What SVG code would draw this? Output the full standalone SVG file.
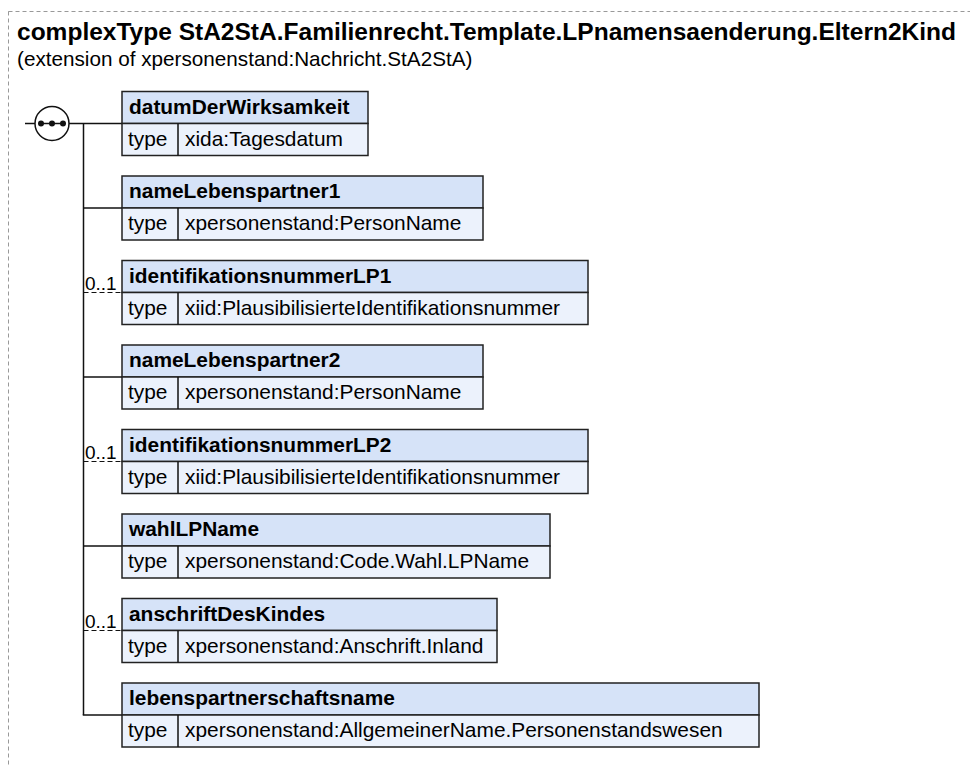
<svg xmlns="http://www.w3.org/2000/svg" width="970" height="767" viewBox="0 0 970 767">
<style>
text{font-family:"Liberation Sans",Arial,sans-serif;fill:#000}
.title{font-size:24.4px;font-weight:bold}
.sub{font-size:20.7px}
.hd{fill:#d6e3f8;stroke:#222;stroke-width:1.5}
.tr{fill:#ecf2fc;stroke:#222;stroke-width:1.5}
.hn{font-size:20.9px;font-weight:bold}
.tt{font-size:20.9px}
.ln{stroke:#111;stroke-width:1.5;fill:none}
.dl{stroke:#111;stroke-width:1.2;fill:none;stroke-dasharray:5,3}
.card{font-size:19px}
</style>
<rect x="8.5" y="11.5" width="980" height="800" fill="none" stroke="#999" stroke-width="1" stroke-dasharray="4,3"/>
<text class="title" x="17" y="40" textLength="939" lengthAdjust="spacingAndGlyphs">complexType StA2StA.Familienrecht.Template.LPnamensaenderung.Eltern2Kind</text>
<text class="sub" x="17" y="66">(extension of xpersonenstand:Nachricht.StA2StA)</text>
<g id="connectors">
<line class="ln" x1="25" y1="123.5" x2="35" y2="123.5"/>
<line class="ln" x1="69" y1="123.5" x2="122" y2="123.5"/>
<line class="ln" x1="83.5" y1="123.5" x2="83.5" y2="715"/>
<line class="ln" x1="83.5" y1="208" x2="122" y2="208"/>
<line class="dl" x1="83.5" y1="292.5" x2="122" y2="292.5"/>
<line class="ln" x1="83.5" y1="377" x2="122" y2="377"/>
<line class="dl" x1="83.5" y1="461.5" x2="122" y2="461.5"/>
<line class="ln" x1="83.5" y1="546" x2="122" y2="546"/>
<line class="dl" x1="83.5" y1="630.5" x2="122" y2="630.5"/>
<line class="ln" x1="82.75" y1="715" x2="122" y2="715"/>
<text class="card" x="85" y="289.5">0..1</text>
<text class="card" x="85" y="458.5">0..1</text>
<text class="card" x="85" y="627.5">0..1</text>
</g>
<g id="sequence">
<circle cx="52" cy="123.5" r="17" fill="#fff" stroke="#111" stroke-width="1.5"/>
<line x1="41" y1="123.5" x2="63" y2="123.5" stroke="#111" stroke-width="1.5"/>
<circle cx="41" cy="123.5" r="3" fill="#111"/>
<circle cx="52" cy="123.5" r="3" fill="#111"/>
<circle cx="63" cy="123.5" r="3" fill="#111"/>
</g>
<g id="datumDerWirksamkeit">
<rect class="hd" x="122" y="91.5" width="246" height="32"/>
<rect class="tr" x="122" y="123.5" width="246" height="32"/>
<line class="ln" x1="178" y1="123.5" x2="178" y2="155.5"/>
<text class="hn" x="129" y="113.5">datumDerWirksamkeit</text>
<text class="tt" x="128" y="145.5">type</text>
<text class="tt" x="185" y="145.5">xida:Tagesdatum</text>
</g>
<g id="nameLebenspartner1">
<rect class="hd" x="122" y="176" width="361" height="32"/>
<rect class="tr" x="122" y="208" width="361" height="32"/>
<line class="ln" x1="178" y1="208" x2="178" y2="240"/>
<text class="hn" x="129" y="198">nameLebenspartner1</text>
<text class="tt" x="128" y="230">type</text>
<text class="tt" x="185" y="230">xpersonenstand:PersonName</text>
</g>
<g id="identifikationsnummerLP1">
<rect class="hd" x="122" y="260.5" width="466" height="32"/>
<rect class="tr" x="122" y="292.5" width="466" height="32"/>
<line class="ln" x1="178" y1="292.5" x2="178" y2="324.5"/>
<text class="hn" x="129" y="282.5">identifikationsnummerLP1</text>
<text class="tt" x="128" y="314.5">type</text>
<text class="tt" x="185" y="314.5">xiid:PlausibilisierteIdentifikationsnummer</text>
</g>
<g id="nameLebenspartner2">
<rect class="hd" x="122" y="345" width="361" height="32"/>
<rect class="tr" x="122" y="377" width="361" height="32"/>
<line class="ln" x1="178" y1="377" x2="178" y2="409"/>
<text class="hn" x="129" y="367">nameLebenspartner2</text>
<text class="tt" x="128" y="399">type</text>
<text class="tt" x="185" y="399">xpersonenstand:PersonName</text>
</g>
<g id="identifikationsnummerLP2">
<rect class="hd" x="122" y="429.5" width="466" height="32"/>
<rect class="tr" x="122" y="461.5" width="466" height="32"/>
<line class="ln" x1="178" y1="461.5" x2="178" y2="493.5"/>
<text class="hn" x="129" y="451.5">identifikationsnummerLP2</text>
<text class="tt" x="128" y="483.5">type</text>
<text class="tt" x="185" y="483.5">xiid:PlausibilisierteIdentifikationsnummer</text>
</g>
<g id="wahlLPName">
<rect class="hd" x="122" y="514" width="428" height="32"/>
<rect class="tr" x="122" y="546" width="428" height="32"/>
<line class="ln" x1="178" y1="546" x2="178" y2="578"/>
<text class="hn" x="129" y="536">wahlLPName</text>
<text class="tt" x="128" y="568">type</text>
<text class="tt" x="185" y="568">xpersonenstand:Code.Wahl.LPName</text>
</g>
<g id="anschriftDesKindes">
<rect class="hd" x="122" y="598.5" width="375" height="32"/>
<rect class="tr" x="122" y="630.5" width="375" height="32"/>
<line class="ln" x1="178" y1="630.5" x2="178" y2="662.5"/>
<text class="hn" x="129" y="620.5">anschriftDesKindes</text>
<text class="tt" x="128" y="652.5">type</text>
<text class="tt" x="185" y="652.5">xpersonenstand:Anschrift.Inland</text>
</g>
<g id="lebenspartnerschaftsname">
<rect class="hd" x="122" y="683" width="637" height="32"/>
<rect class="tr" x="122" y="715" width="637" height="32"/>
<line class="ln" x1="178" y1="715" x2="178" y2="747"/>
<text class="hn" x="129" y="705">lebenspartnerschaftsname</text>
<text class="tt" x="128" y="737">type</text>
<text class="tt" x="185" y="737">xpersonenstand:AllgemeinerName.Personenstandswesen</text>
</g>
</svg>
